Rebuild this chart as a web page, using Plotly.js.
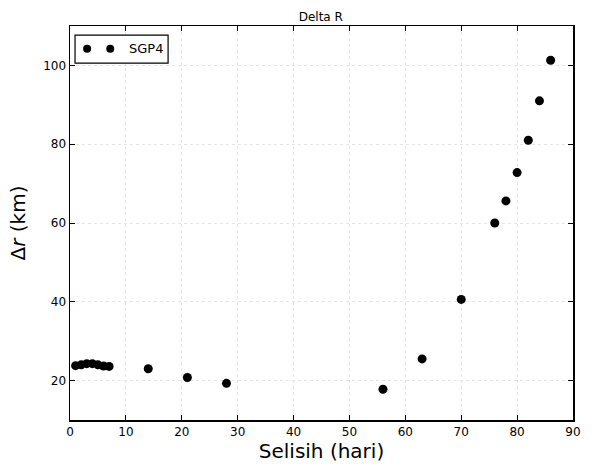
<!DOCTYPE html>
<html>
<head>
<meta charset="utf-8">
<script src="https://cdn.plot.ly/plotly-3.0.1.min.js"></script>
<style>html,body{margin:0;padding:0;background:#fff;}#chart{width:594px;height:468px;}</style>
</head>
<body>
<div id="chart"></div>
<script>
// Data (days difference vs. position error)
const seriesName = "SGP4";
const selisihHari = [1, 2, 3, 4, 5, 6, 7, 14, 21, 28, 56, 63, 70, 76, 78, 80, 82, 84, 86];
const deltaR = [23.8, 24.0, 24.3, 24.3, 24.0, 23.7, 23.6, 23.0, 20.8, 19.3, 17.8, 25.5, 40.6, 60.0, 65.6, 72.8, 81.0, 91.0, 101.3];
const xTicks = [0, 10, 20, 30, 40, 50, 60, 70, 80, 90];
const yTicks = [20, 40, 60, 80, 100];

const FONT = "DejaVu Sans, sans-serif";

const trace = {
  x: selisihHari,
  y: deltaR,
  type: "scatter",
  mode: "markers",
  name: seriesName,
  showlegend: false,
  marker: {color: "#000000", size: 9, line: {width: 0}}
};

// hand-drawn matplotlib-style legend (two sample markers + label)
const lgX0 = 0.010, lgX1 = 0.195, lgY0 = 0.906, lgY1 = 0.977;
const mkW = 8 / 503, mkH = 8 / 394, mkY = 0.942;
const mkXs = [0.034, 0.080];
const shapes = [
  {type: "rect", xref: "paper", yref: "paper", x0: lgX0, x1: lgX1, y0: lgY0, y1: lgY1,
   line: {color: "#000", width: 1.2}, fillcolor: "#fff"}
].concat(mkXs.map(cx => ({
  type: "circle", xref: "paper", yref: "paper",
  x0: cx - mkW / 2, x1: cx + mkW / 2, y0: mkY - mkH / 2, y1: mkY + mkH / 2,
  fillcolor: "#000", line: {color: "#000", width: 0}
})));

const layout = {
  width: 594,
  height: 468,
  paper_bgcolor: "#ffffff",
  plot_bgcolor: "#ffffff",
  margin: {l: 70, r: 21, t: 26, b: 48},
  font: {family: FONT, color: "#000"},
  title: {text: "Delta R", font: {family: FONT, size: 12, color: "#000"},
          x: 0.54, xanchor: "center", y: 0.965, yanchor: "middle"},
  showlegend: false,
  xaxis: {
    range: [0, 90],
    tickvals: xTicks,
    ticktext: xTicks.map(String),
    ticks: "inside", ticklen: 5, tickwidth: 1, tickcolor: "#000",
    showline: true, linecolor: "#000", linewidth: 1.5, mirror: "ticks",
    showgrid: true, gridcolor: "#e6e6e6", griddash: "dot", gridwidth: 1,
    zeroline: false,
    tickfont: {family: FONT, size: 12, color: "#000"},
    title: {text: "Selisih (hari)", font: {family: FONT, size: 20, color: "#000"}, standoff: 6}
  },
  yaxis: {
    range: [10, 110],
    tickvals: yTicks,
    ticktext: yTicks.map(String),
    ticks: "inside", ticklen: 5, tickwidth: 1, tickcolor: "#000",
    showline: true, linecolor: "#000", linewidth: 1.5, mirror: "ticks",
    showgrid: true, gridcolor: "#e6e6e6", griddash: "dot", gridwidth: 1,
    zeroline: false,
    tickfont: {family: FONT, size: 12, color: "#000"},
    title: {text: "Δ<i>r</i> (km)", font: {family: FONT, size: 20, color: "#000"}, standoff: 12}
  },
  shapes: shapes,
  annotations: [
    {text: seriesName, xref: "paper", yref: "paper", x: 0.113, y: mkY,
     xanchor: "left", yanchor: "middle", showarrow: false,
     font: {family: FONT, size: 13, color: "#000"}}
  ]
};

Plotly.newPlot("chart", [trace], layout, {displayModeBar: false, staticPlot: true});
</script>
</body>
</html>
